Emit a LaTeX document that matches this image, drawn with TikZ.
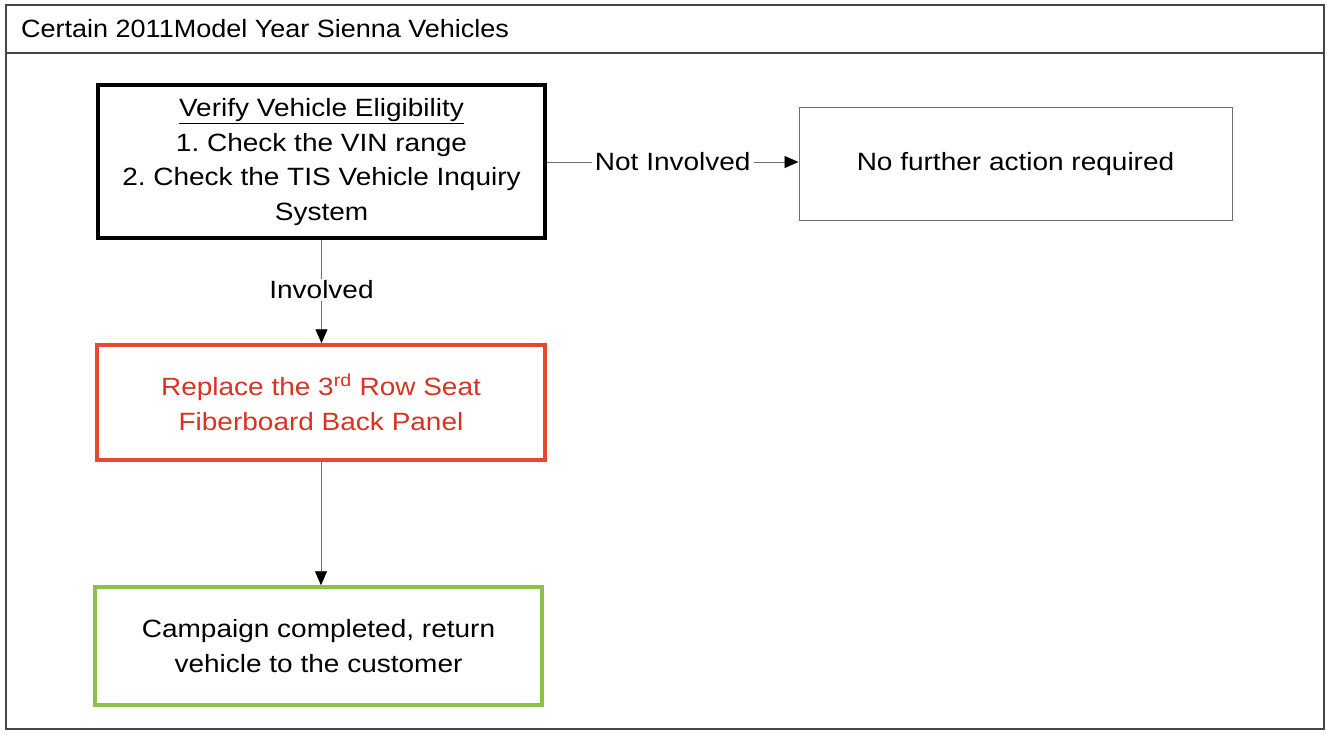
\documentclass[tikz,border=0pt]{standalone}
\usepackage{fontspec}
\setmainfont{Liberation Sans}
\newfontfamily\bodyfont[FakeStretch=1.12]{Liberation Sans}
\newfontfamily\titlefont[FakeStretch=1.08]{Liberation Sans}
\usetikzlibrary{arrows.meta}
\definecolor{frameg}{RGB}{70,70,70}
\definecolor{redbox}{RGB}{232,72,50}
\definecolor{redtext}{RGB}{214,52,36}
\definecolor{greenbox}{RGB}{138,194,72}
\definecolor{lineg}{RGB}{110,110,110}
\tikzset{
  body/.style={font=\bodyfont\fontsize{25}{34.5}\selectfont\frenchspacing, align=center, text=black},
  blackbox/.style={body, draw=black, line width=4pt, minimum width=447pt, minimum height=153pt, inner sep=0pt},
  redbx/.style={body, draw=redbox, line width=3.5pt, minimum width=448pt, minimum height=115pt, inner sep=0pt, text=redtext},
  greenbx/.style={body, draw=greenbox, line width=3.5pt, minimum width=447pt, minimum height=118pt, inner sep=0pt},
  plainbx/.style={body, draw=lineg, line width=1pt, minimum width=433pt, minimum height=113pt, inner sep=0pt},
  conn/.style={draw=lineg, line width=0.9pt, -{Triangle[length=14pt,width=12pt,color=black,fill=black]}},
  lbl/.style={body, fill=white, inner sep=2pt},
  framel/.style={draw=frameg, line width=1.4pt}
}
\begin{document}
\begin{tikzpicture}[x=1pt,y=-1pt]
\useasboundingbox (0,0) rectangle (1329,735);
\fill[white] (0,0) rectangle (1329,735);
\draw[framel] (6,5) rectangle (1324,729);
\draw[framel] (6,53) -- (1324,53);
\node[anchor=west, font=\titlefont\fontsize{25}{28}\selectfont, inner sep=0pt] (title) at (21,29) {Certain 2011Model Year Sienna Vehicles};

\node[blackbox] (verify) at (321.5,162) {\underline{Verify Vehicle Eligibility}\\1. Check the VIN range\\2. Check the TIS Vehicle Inquiry\\System};
\node[plainbx] (nofurther) at (1015.5,164.5) {No further action required};
\node[redbx] (replace) at (321,402.5) {Replace the 3\textsuperscript{rd} Row Seat\\Fiberboard Back Panel};
\node[greenbx] (done) at (318.5,646) {Campaign completed, return\\vehicle to the customer};

\draw[conn] (verify.east) -- node[lbl, inner xsep=3pt] {Not Involved} (verify.east -| nofurther.west);
\draw[conn] (verify.south) -- node[lbl, pos=0.48] {Involved} (verify.south |- replace.north);
\draw[conn] (replace.south) -- (replace.south |- done.north);
\end{tikzpicture}
\end{document}
